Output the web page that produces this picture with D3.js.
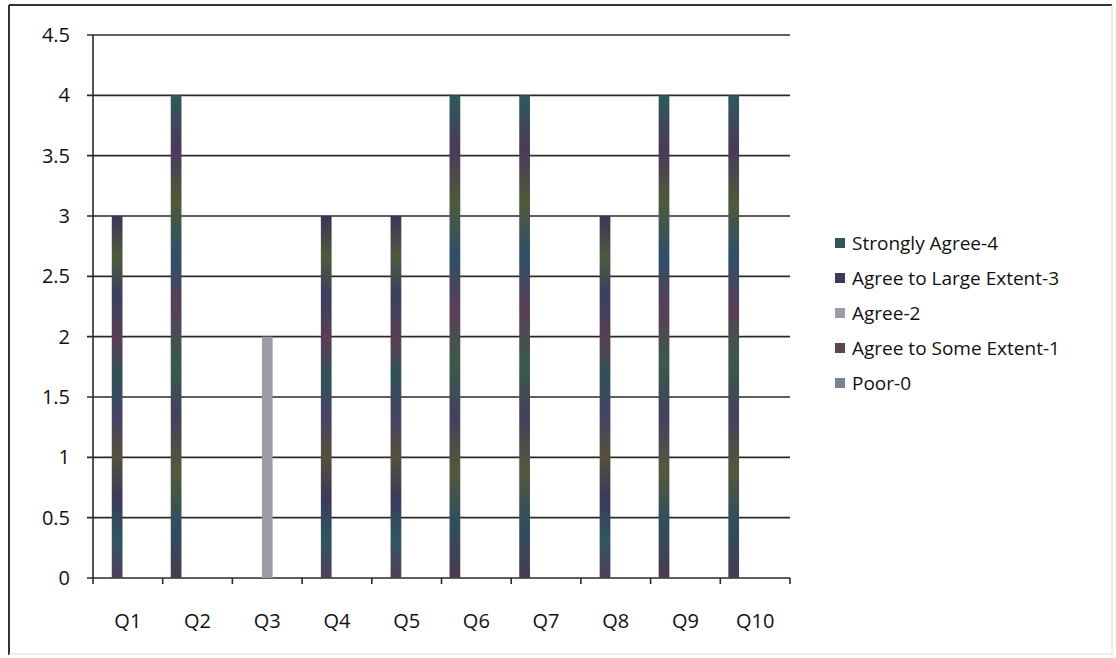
<!DOCTYPE html>
<html>
<head>
<meta charset="utf-8">
<title>Survey responses</title>
<script src="https://d3js.org/d3.v7.min.js"></script>
<style>
body { margin: 0; background: #fff; }
svg text { font-family: "Open Sans", "Noto Sans", sans-serif; fill: #111; }
.legend text { font-size: 19px; }
</style>
</head>
<body>
<script>
var categories = ["Q1","Q2","Q3","Q4","Q5","Q6","Q7","Q8","Q9","Q10"];
var seriesNames = ["Strongly Agree-4","Agree to Large Extent-3","Agree-2","Agree to Some Extent-1","Poor-0"];
var stronglyAgree   = [0,4,0,0,0,4,4,0,4,4];
var agreeLarge      = [3,0,0,3,3,0,0,3,0,0];
var agree           = [0,0,2,0,0,0,0,0,0,0];
var agreeSome       = [0,0,0,0,0,0,0,0,0,0];
var poor            = [0,0,0,0,0,0,0,0,0,0];
var yTicks = [0,0.5,1,1.5,2,2.5,3,3.5,4,4.5];

var allSeries = [stronglyAgree, agreeLarge, agree, agreeSome, poor];
var colors = ["#34545c","#3e3a55","#9b9ca6","#584650","#7b8291"];

var width = 1116, height = 658;
var plotLeft = 93, plotRight = 790, plotTop = 35, plotBottom = 578;

var svg = d3.select("body").append("svg")
    .attr("width", width)
    .attr("height", height);

// scanned-looking mottled fills
var defs = svg.append("defs");
var mottle = [
    ["#2e5a5a","#4a3a5a","#4f5a3a","#2f4f6a","#5a3f55","#3a5a4a","#44405e","#55583c","#2e4e5e","#4b3a50"],
    ["#3d3356","#4d5a3e","#3a3f60","#5a3f52","#2f5257","#4a4266","#54503a","#3b3a5a","#2f5560","#50405a"]
];
mottle.forEach(function(stops, k) {
    var grad = defs.append("linearGradient")
        .attr("id", "mottle" + k)
        .attr("x1", 0).attr("y1", 0).attr("x2", 0).attr("y2", 1);
    stops.forEach(function(c, i) {
        grad.append("stop").attr("offset", i / (stops.length - 1)).attr("stop-color", c);
    });
});

// outer frame
svg.append("line").attr("x1", 9).attr("y1", 5).attr("x2", 1112).attr("y2", 5)
    .attr("stroke", "#333").attr("stroke-width", 2);
svg.append("line").attr("x1", 9).attr("y1", 5).attr("x2", 9).attr("y2", 655)
    .attr("stroke", "#333").attr("stroke-width", 2);
svg.append("line").attr("x1", 1112).attr("y1", 5).attr("x2", 1112).attr("y2", 655)
    .attr("stroke", "#ddd").attr("stroke-width", 1);
svg.append("line").attr("x1", 9).attr("y1", 654).attr("x2", 1112).attr("y2", 654)
    .attr("stroke", "#ddd").attr("stroke-width", 1);

var x = d3.scaleBand()
    .domain(categories)
    .range([plotLeft, plotRight])
    .paddingInner(0)
    .paddingOuter(0);

var xInner = d3.scaleBand()
    .domain(seriesNames)
    .range([0, x.bandwidth()])
    .paddingInner(0)
    .paddingOuter(0.75);

var y = d3.scaleLinear()
    .domain([0, 4.5])
    .range([plotBottom, plotTop]);

// gridlines
svg.append("g")
    .selectAll("line")
    .data(yTicks)
    .enter()
    .append("line")
    .attr("x1", plotLeft - 6)
    .attr("x2", plotRight)
    .attr("y1", function(d) { return y(d); })
    .attr("y2", function(d) { return y(d); })
    .attr("stroke", "#2a2a2a")
    .attr("stroke-width", 1.6);

// y axis line
svg.append("line")
    .attr("x1", plotLeft).attr("x2", plotLeft)
    .attr("y1", y(4.5)).attr("y2", y(0))
    .attr("stroke", "#2a2a2a").attr("stroke-width", 1.6);

// y labels
svg.append("g")
    .selectAll("text")
    .data(yTicks)
    .enter()
    .append("text")
    .attr("x", 70)
    .attr("y", function(d) { return y(d); })
    .attr("dy", "0.35em")
    .attr("text-anchor", "end")
    .style("font-size", "20px")
    .text(function(d) { return d; });

// x tick marks at category boundaries
var bounds = categories.map(function(c) { return x(c); }).concat([plotRight]);
svg.append("g")
    .selectAll("line")
    .data(bounds)
    .enter()
    .append("line")
    .attr("x1", function(d) { return d; })
    .attr("x2", function(d) { return d; })
    .attr("y1", y(0))
    .attr("y2", y(0) + 6)
    .attr("stroke", "#2a2a2a")
    .attr("stroke-width", 1.6);

// x labels
svg.append("g")
    .selectAll("text")
    .data(categories)
    .enter()
    .append("text")
    .attr("x", function(d) { return x(d) + x.bandwidth() / 2; })
    .attr("y", 628)
    .attr("text-anchor", "middle")
    .style("font-size", "20px")
    .text(function(d) { return d; });

// bars
var barData = [];
allSeries.forEach(function(vals, s) {
    vals.forEach(function(v, i) {
        barData.push({ cat: categories[i], series: seriesNames[s], s: s, value: v });
    });
});

svg.append("g")
    .selectAll("rect")
    .data(barData.filter(function(d) { return d.value > 0; }))
    .enter()
    .append("rect")
    .attr("x", function(d) { return x(d.cat) + xInner(d.series); })
    .attr("y", function(d) { return y(d.value); })
    .attr("width", xInner.bandwidth())
    .attr("height", function(d) { return y(0) - y(d.value); })
    .attr("fill", function(d) { return d.s < 2 ? "url(#mottle" + d.s + ")" : colors[d.s]; });

// legend
var legend = svg.append("g").attr("class", "legend");
var rows = legend.selectAll("g")
    .data(seriesNames)
    .enter()
    .append("g")
    .attr("transform", function(d, i) { return "translate(835," + (243 + i * 35) + ")"; });

rows.append("rect")
    .attr("x", 0).attr("y", -5)
    .attr("width", 10).attr("height", 10)
    .attr("fill", function(d, i) { return colors[i]; });

rows.append("text")
    .attr("x", 17)
    .attr("y", 0)
    .attr("dy", "0.35em")
    .text(function(d) { return d; });
</script>
</body>
</html>
